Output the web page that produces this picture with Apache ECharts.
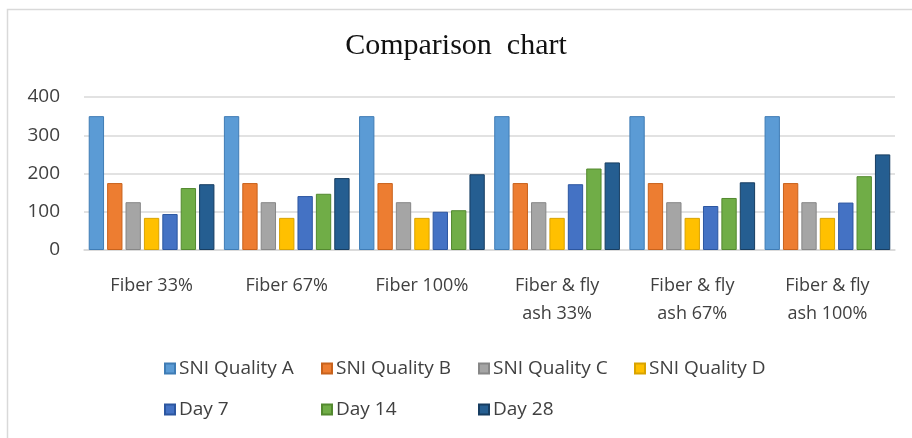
<!DOCTYPE html>
<html>
<head>
<meta charset="utf-8">
<script src="https://cdn.jsdelivr.net/npm/echarts@6/dist/echarts.min.js"></script>
<style>
  html, body { margin: 0; padding: 0; background: #fff; }
  #chart { width: 912px; height: 438px; }
</style>
</head>
<body>
<div id="chart"></div>
<script>
const categories = ['Fiber 33%', 'Fiber 67%', 'Fiber 100%', 'Fiber & fly\nash 33%', 'Fiber & fly\nash 67%', 'Fiber & fly\nash 100%'];
const qualityA = [350, 350, 350, 350, 350, 350];
const qualityB = [175, 175, 175, 175, 175, 175];
const qualityC = [125, 125, 125, 125, 125, 125];
const qualityD = [84, 84, 84, 84, 84, 84];
const day7 = [94, 141, 100, 172, 115, 124];
const day14 = [162, 147, 104, 213, 136, 193];
const day28 = [172, 188, 198, 229, 177, 250];
const yTicks = [0, 100, 200, 300, 400];

const seriesDefs = [
  { name: 'SNI Quality A', data: qualityA, color: '#5b9bd5', border: '#3f7cb5' },
  { name: 'SNI Quality B', data: qualityB, color: '#ed7d31', border: '#c8621c' },
  { name: 'SNI Quality C', data: qualityC, color: '#a5a5a5', border: '#878787' },
  { name: 'SNI Quality D', data: qualityD, color: '#ffc000', border: '#d9a300' },
  { name: 'Day 7', data: day7, color: '#4472c4', border: '#2c56a0' },
  { name: 'Day 14', data: day14, color: '#70ad47', border: '#53892f' },
  { name: 'Day 28', data: day28, color: '#255e91', border: '#173d61' }
];

const font = 'Open Sans';
const textColor = '#404040';

// legend sits in a 4-column grid, one legend per item
const legendCols = [164, 321, 478, 634];
const legendRows = [359, 400];

const chart = echarts.init(document.getElementById('chart'));

const legends = seriesDefs.map((s, i) => ({
  icon: 'rect',
  itemWidth: 10,
  itemHeight: 10,
  left: legendCols[i < 4 ? i : i - 4],
  top: legendRows[i < 4 ? 0 : 1],
  padding: 0,
  data: [s.name],
  textStyle: { fontFamily: font, fontSize: 19, color: textColor, padding: [0, 0, 0, -1] }
}));

chart.setOption({
  animation: false,
  backgroundColor: '#fff',
  graphic: [{
    type: 'rect',
    shape: { x: 7.5, y: 9.5, width: 920, height: 440 },
    style: { fill: 'none', stroke: '#d9d9d9', lineWidth: 1.5 },
    silent: true
  }],
  title: {
    text: 'Comparison  chart',
    left: 'center',
    top: 26,
    textStyle: { fontFamily: 'Liberation Serif', fontSize: 30, fontWeight: 'normal', color: '#111' }
  },
  legend: legends,
  grid: { left: 84, right: 17, top: 97, bottom: 188, containLabel: false },
  xAxis: {
    type: 'category',
    data: categories,
    axisTick: { show: false },
    axisLine: { lineStyle: { color: '#d9d9d9', width: 1.5 } },
    axisLabel: {
      margin: 22,
      interval: 0,
      fontFamily: font,
      fontSize: 18,
      lineHeight: 28,
      color: textColor
    }
  },
  yAxis: {
    type: 'value',
    min: yTicks[0],
    max: yTicks[yTicks.length - 1],
    interval: 100,
    axisLine: { show: false },
    axisTick: { show: false },
    splitLine: { lineStyle: { color: '#d9d9d9', width: 1.5 } },
    axisLabel: { margin: 24, fontFamily: font, fontSize: 19, color: textColor }
  },
  series: seriesDefs.map(s => ({
    name: s.name,
    type: 'bar',
    data: s.data,
    barGap: '20%',
    barCategoryGap: '7%',
    itemStyle: { color: s.color, borderColor: s.border, borderWidth: 1 }
  }))
});
</script>
</body>
</html>
